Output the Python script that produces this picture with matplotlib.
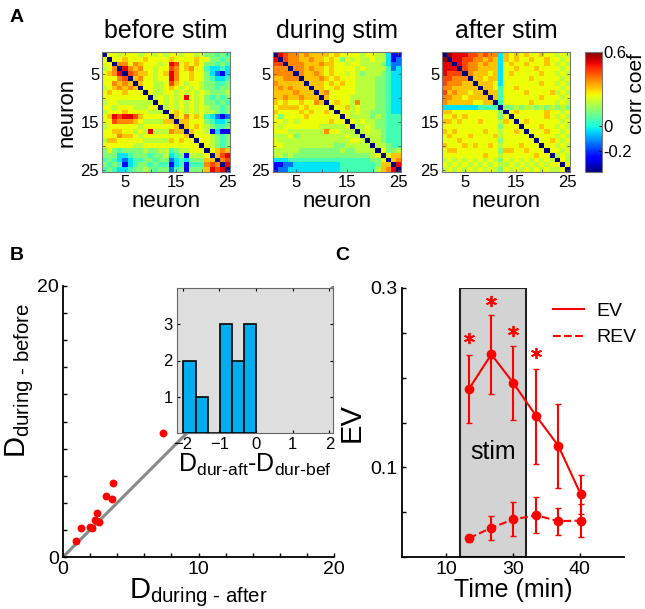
"""
Correlation matrices before/during/after stim, D-distance scatter with
histogram inset, and EV time course.
"""

import numpy as np
import matplotlib
matplotlib.use("Agg")
import matplotlib.pyplot as plt
from matplotlib.patches import Rectangle
from matplotlib.lines import Line2D

plt.rcParams["font.family"] = ["Liberation Sans", "DejaVu Sans"]
plt.rcParams["mathtext.fontset"] = "custom"
plt.rcParams["mathtext.rm"] = "Liberation Sans"
plt.rcParams["mathtext.it"] = "Liberation Sans:italic"

# ---- panel A: correlation matrices (upper triangles, colour levels) ----
LEVELS = {"0": -0.37, "1": -0.26, "2": -0.14, "3": -0.03, "4": 0.05, "5": 0.12,
          "6": 0.19, "7": 0.25, "8": 0.31, "9": 0.37, "a": 0.44, "b": 0.51,
          "c": 0.58}

before_upper = [
    "776777677676776776755454",
    "77877787777877778775545",
    "9979877767ba7878755454",
    "b98977677a97897743343",
    "a9887678b97787753213",
    "8977677b97787754334",
    "877667a87677655445",
    "77667876767655455",
    "7667767676765556",
    "676767b76754545",
    "76767676755454",
    "6767676765545",
    "787676766545",
    "87978743212",
    "8877754334",
    "878765445",
    "87761311",
    "7776545",
    "776545",
    "76545",
    "7898",
    "8ab",
    "9a",
    "b",
]

during_upper = [
    "ba9989888878777767766311",
    "a9988988787576766766312",
    "9998889887767766665322",
    "998988787777676666423",
    "98898787767656665433",
    "8889878777666655433",
    "888787877666655433",
    "88778777666655433",
    "8977777666655433",
    "877776666655433",
    "78776966655433",
    "7786766655433",
    "776766555433",
    "76666565444",
    "7676655444",
    "667655444",
    "67665444",
    "6665444",
    "665444",
    "66544",
    "7556",
    "788",
    "89",
    "b",
]

after_upper = [
    "cbbbaa9a9938787877877676",
    "bbaa9989838787787787767",
    "ba99898837877877787676",
    "a99888837787778777767",
    "98887837877777877676",
    "8878837777787777767",
    "888737777777877676",
    "88747787777777767",
    "8847777877778676",
    "847777777877767",
    "47777787777676",
    "5565665656565",
    "787777787767",
    "77777787676",
    "7877777767",
    "777877676",
    "77787767",
    "7777676",
    "778767",
    "77676",
    "7767",
    "676",
    "76",
    "7",
]

MAT_TITLES = ["before stim", "during stim", "after stim"]
NEURON_TICKS = [5, 15, 25]
CB_TICKS = [-0.2, 0, 0.6]

# ---- panel B: distances and histogram of differences ----
d_after = [0.94, 1.35, 2.02, 2.17, 2.34, 2.54, 2.66, 3.15, 3.65, 3.69, 7.39]
d_before = [1.18, 2.17, 2.22, 2.17, 2.76, 3.25, 2.59, 4.51, 4.26, 5.49, 9.16]
hist_centers = [-1.81, -1.48, -1.15, -0.82, -0.50, -0.17]
hist_counts = [2, 1, 0, 3, 2, 3]

# ---- panel C: EV time course ----
time_pos = [13.4, 16.75, 20.05, 23.5, 26.8, 30.15]
ev = [0.1875, 0.226, 0.194, 0.157, 0.124, 0.070]
ev_err = [0.038, 0.044, 0.041, 0.053, 0.047, 0.022]
rev = [0.021, 0.0325, 0.042, 0.0465, 0.040, 0.0406]
rev_err = [0.004, 0.013, 0.019, 0.020, 0.015, 0.018]
star_y = [0.244, 0.285, 0.252, 0.227]
time_ticks = [10, 20, 30]
time_ticklabels = ["10", "30", "40"]
stim_start, stim_end = 12.0, 22.0


def build(upper):
    n = len(upper) + 1
    m = np.full((n, n), LEVELS["0"])
    for r, row in enumerate(upper):
        for k, ch in enumerate(row):
            c = r + 1 + k
            m[r, c] = m[c, r] = LEVELS[ch]
    return m


fig = plt.figure(figsize=(6.45, 6.09), dpi=100)
W, H = 645.0, 609.0


def px_axes(x0, y0, x1, y1):
    return fig.add_axes([x0 / W, 1 - y1 / H, (x1 - x0) / W, (y1 - y0) / H])


# ---------------- A ----------------
mats = [build(before_upper), build(during_upper), build(after_upper)]
lefts = [102, 273, 442]
im = None
for i, (m, title) in enumerate(zip(mats, MAT_TITLES)):
    ax = px_axes(lefts[i], 52, lefts[i] + 128, 172)
    im = ax.imshow(m, cmap="jet", vmin=-0.37, vmax=0.6, aspect="auto",
                   interpolation="nearest", extent=(0.5, 25.5, 25.5, 0.5))
    ax.set_xticks(NEURON_TICKS)
    ax.set_yticks(NEURON_TICKS)
    ax.set_xticks([10, 20], minor=True)
    ax.set_yticks([10, 20], minor=True)
    ax.tick_params(which="both", direction="in", length=2, width=0.6,
                   labelsize=12, top=True, right=True, color="#555555", pad=2)
    for sp in ax.spines.values():
        sp.set_edgecolor("#777777")
        sp.set_linewidth(0.8)
    ax.set_title(title, fontsize=18, pad=10)
    ax.set_xlabel("neuron", fontsize=16, labelpad=1)
    if i == 0:
        ax.set_ylabel("neuron", fontsize=16, labelpad=2)

cax = px_axes(585, 52, 602, 172)
cb = fig.colorbar(im, cax=cax, ticks=CB_TICKS)
cb.ax.set_yticklabels(["-0.2", "0", "0.6"])
cb.ax.tick_params(labelsize=12, direction="in", length=2, pad=1)
cb.outline.set_edgecolor("#777777")
fig.text(636 / W, 1 - 94 / H, "corr coef", rotation=90, fontsize=15,
         ha="center", va="center")

# ---------------- B ----------------
axb = px_axes(63, 286, 334, 557)
axb.plot([0, 20], [0, 20], color="#888888", lw=2.2, zorder=1)
axb.scatter(d_after, d_before, s=32, color="red", zorder=3, linewidths=0)
axb.set_xlim(0, 20)
axb.set_ylim(0, 20)
axb.set_xticks(np.arange(0, 21, 2))
axb.set_xticklabels(["0", "", "", "", "", "10", "", "", "", "", "20"])
axb.set_yticks(np.arange(0, 21, 2))
axb.set_yticklabels(["0", "", "", "", "", "", "", "", "", "", "20"])
axb.tick_params(direction="in", length=3, width=1, labelsize=14, pad=3)
axb.spines["top"].set_visible(False)
axb.spines["right"].set_visible(False)
for sp in ("left", "bottom"):
    axb.spines[sp].set_linewidth(1.3)
axb.set_xlabel(r"D$_{\text{during - after}}$", fontsize=21, labelpad=-1)
axb.set_ylabel(r"D$_{\text{during - before}}$", fontsize=21)
axb.yaxis.set_label_coords(-0.10, 0.65)

axi = px_axes(177, 288, 333, 433)
axi.set_facecolor("#dedede")
axi.bar(hist_centers, hist_counts, width=0.33, color="#00aeef",
        edgecolor="black", linewidth=1.2)
axi.set_xlim(-2.15, 2.1)
axi.set_ylim(0, 4)
axi.set_xticks([-2, -1, 0, 1, 2])
axi.set_yticks([1, 2, 3])
axi.tick_params(direction="in", length=2.5, labelsize=12, top=True,
                right=True, pad=3)
for sp in axi.spines.values():
    sp.set_edgecolor("#666666")
    sp.set_linewidth(0.8)
axi.set_xlabel(r"D$_{\text{dur-aft}}$-D$_{\text{dur-bef}}$",
               fontsize=18, labelpad=0)

# ---------------- C ----------------
axc = px_axes(402, 288, 624, 557)
axc.add_patch(Rectangle((stim_start, 0), stim_end - stim_start, 0.3,
                        facecolor="#d3d3d3", edgecolor="#222222", lw=1.5,
                        zorder=0))
axc.text((stim_start + stim_end) / 2, 0.117, "stim", fontsize=18,
         ha="center", va="center")
axc.errorbar(time_pos, ev, yerr=ev_err, color="red", lw=1.5, marker="o",
             ms=6, capsize=2, elinewidth=1.5, zorder=3)
axc.errorbar(time_pos, rev, yerr=rev_err, color="red", lw=1.5, ls="--",
             marker="o", ms=6, capsize=2, elinewidth=1.5, zorder=3)
axc.plot(time_pos[:len(star_y)], star_y, ls="none", marker=(6, 2, 0),
         ms=8, mew=1.3, color="red", zorder=4)
axc.set_xlim(3.35, 36.65)
axc.set_ylim(0, 0.3)
axc.set_xticks(time_ticks)
axc.set_xticklabels(time_ticklabels)
axc.set_yticks(np.arange(0, 0.301, 0.05))
axc.set_yticklabels(["", "", "0.1", "", "", "", "0.3"])
axc.tick_params(direction="in", length=3, width=1, labelsize=14, pad=3)
axc.spines["top"].set_visible(False)
axc.spines["right"].set_visible(False)
for sp in ("left", "bottom"):
    axc.spines[sp].set_linewidth(1.3)
axc.set_xlabel("Time (min)", fontsize=18, labelpad=0)
axc.set_ylabel("EV", fontsize=21, labelpad=4)
handles = [Line2D([], [], color="red", lw=1.5),
           Line2D([], [], color="red", lw=1.5, ls="--")]
axc.legend(handles, ["EV", "REV"], loc="upper right", frameon=False,
           fontsize=14, handlelength=1.6, handletextpad=0.6,
           labelspacing=0.45, borderaxespad=0, bbox_to_anchor=(1.09, 0.975))

# panel letters
fig.text(10 / W, 1 - 18 / H, "A", fontsize=14, fontweight="bold", va="center")
fig.text(10 / W, 1 - 256 / H, "B", fontsize=14, fontweight="bold", va="center")
fig.text(335 / W, 1 - 256 / H, "C", fontsize=14, fontweight="bold", va="center")

fig.savefig("out.png", dpi=100)
plt.close(fig)
